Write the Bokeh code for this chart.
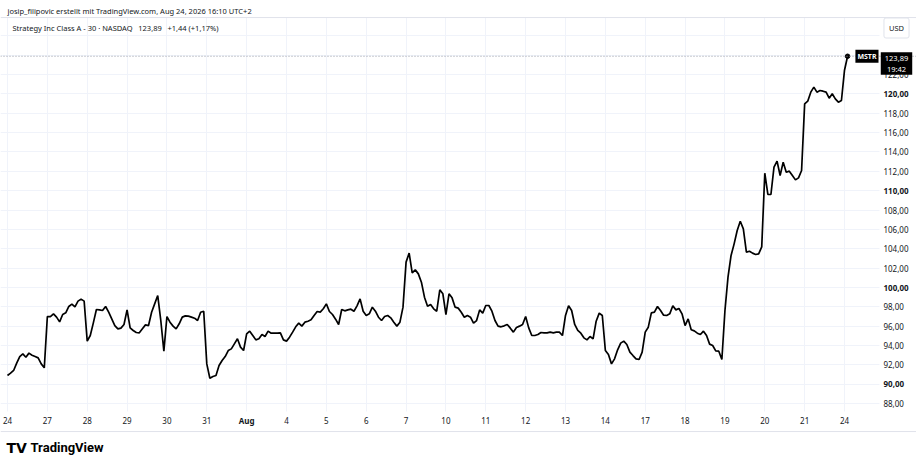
from bokeh.plotting import figure
from bokeh.models import (ColumnDataSource, FixedTicker, Range1d, Span, Label, Grid,
                          LinearAxis, CustomJSTickFormatter)
from bokeh.embed import file_html
from bokeh.resources import INLINE

# MSTR 30-minute closes, one list per session (13 bars in a regular session)
day_labels = ["24", "27", "28", "29", "30", "31", "Aug", "4", "5", "6", "7",
              "10", "11", "12", "13", "14", "17", "18", "19", "20", "21", "24"]

jul24 = [90.91, 91.15, 91.43, 92.18, 92.87, 93.15, 92.80, 93.22, 93.01, 92.87, 92.73, 92.11, 91.70]
jul27 = [97.00, 97.00, 97.28, 96.94, 96.45, 97.21, 97.38, 98.04, 98.28, 98.00, 98.59, 98.80, 98.59]
jul28 = [94.46, 95.04, 96.35, 97.73, 97.69, 97.62, 98.04, 97.45, 96.76, 96.07, 95.73, 95.80, 96.18]
jul29 = [97.69, 95.83, 95.56, 95.35, 95.32, 95.73, 96.14, 96.07, 97.45, 98.31, 99.17, 96.59, 93.42]
jul30 = [97.00, 96.42, 96.01, 95.73, 96.25, 96.94, 97.07, 97.04, 96.94, 96.83, 96.59, 97.45, 97.55]
jul31 = [92.11, 90.63, 90.81, 90.91, 91.94, 92.46, 92.87, 93.49, 93.66, 94.18, 94.70, 93.84, 93.49]
aug03 = [95.21, 95.49, 95.04, 94.59, 94.70, 95.14, 94.94, 95.49, 95.28, 95.28, 95.28, 95.32, 94.59]
aug04 = [94.46, 94.87, 95.39, 95.94, 96.32, 96.01, 96.42, 96.52, 96.66, 97.11, 97.52, 97.45, 97.80]
aug05 = [98.31, 97.52, 97.21, 96.73, 96.18, 97.73, 97.59, 97.69, 97.76, 97.55, 98.11, 98.83, 97.55]
aug06 = [97.11, 97.28, 97.97, 97.55, 96.93, 96.59, 97.00, 97.11, 96.87, 96.42, 96.01, 96.42, 97.97]
aug07 = [102.62, 103.55, 101.51, 101.82, 101.41, 100.55, 99.00, 98.07, 98.24, 97.80, 97.55, 99.76, 99.35]
aug10 = [97.21, 99.35, 98.93, 97.97, 97.87, 97.45, 96.93, 97.11, 96.93, 96.31, 96.59, 97.69, 97.35]
aug11 = [98.14, 98.14, 97.55, 96.59, 96.01, 95.94, 96.04, 96.18, 95.80, 95.39, 95.87, 96.01, 96.18]
aug12 = [97.00, 95.83, 95.04, 95.04, 95.14, 95.35, 95.32, 95.32, 95.39, 95.32, 95.39, 95.39, 95.04]
aug13 = [97.11, 98.11, 97.62, 96.18, 95.56, 95.28, 94.80, 94.59, 94.94, 94.70, 96.52, 97.35, 97.11]
aug14 = [93.49, 93.08, 92.11, 92.63, 93.56, 94.25, 94.46, 94.11, 93.32, 92.97, 92.63, 92.56, 93.32]
aug17 = [95.39, 95.90, 97.38, 97.45, 98.04, 97.62, 97.14, 97.11, 97.28, 98.11, 97.69, 97.83, 97.28]
aug18 = [96.07, 96.76, 95.63, 95.52, 95.28, 95.14, 95.49, 95.04, 94.15, 94.01, 93.46, 93.42, 92.56]
aug19 = [97.60, 101.07, 103.31, 104.51, 105.89, 106.85, 106.06, 103.65, 103.75, 103.55, 103.41, 103.48, 104.20]
aug20 = [111.81, 109.61, 109.61, 112.43, 113.05, 111.57, 112.95, 111.91, 112.02, 111.57, 111.12, 111.33, 112.09]
aug21 = [118.97, 119.25, 120.18, 120.70, 120.18, 120.35, 120.28, 120.18, 119.56, 120.01, 119.49, 119.15, 119.32]
aug24 = [122.45, 123.89]

sessions = [jul24, jul27, jul28, jul29, jul30, jul31, aug03, aug04, aug05, aug06, aug07,
            aug10, aug11, aug12, aug13, aug14, aug17, aug18, aug19, aug20, aug21, aug24]
close = [c for s in sessions for c in s]
bar = list(range(len(close)))
day_start = [i * 13 for i in range(len(sessions))]

price_ticks = list(range(88, 123, 2))
grid_ticks = list(range(88, 128, 2))
bold_prices = [90, 100, 110, 120]

header = "josip_filipovic erstellt mit TradingView.com, Aug 24, 2026 16:10 UTC+2"
legend = "Strategy Inc Class A - 30 \u00b7 NASDAQ\u2002 123,89\u2002 +1,44 (+1,17%)"

TXT = "#131722"
FONT = "Noto Sans"
W, H = 916, 464

# the whole canvas is the frame; the price pane is the part left of PANE_R / between PANE_B and PANE_T
PANE_R = 284.4             # bar index at the price scale edge
PANE_T, PANE_B = 127.89, 87.19
BOTTOM_LINE = 85.12

src = ColumnDataSource(data={"bar": bar, "close": close})

p = figure(width=W, height=H, output_backend="svg", toolbar_location=None,
           x_range=Range1d(-2.283, 296.48), y_range=Range1d(81.715, 129.65),
           x_axis_type=None, y_axis_type=None, min_border=0)
p.outline_line_color = None

p.add_layout(Grid(dimension=0, ticker=FixedTicker(ticks=day_start),
                  cross_bounds=(PANE_B, PANE_T), grid_line_color="#f0f3fa"))
p.add_layout(Grid(dimension=1, ticker=FixedTicker(ticks=grid_ticks),
                  cross_bounds=(-2.283, PANE_R), grid_line_color="#f0f3fa"))

p.add_layout(Span(location=PANE_T, dimension="width", line_color="#e0e3eb", line_width=1))
p.add_layout(Span(location=BOTTOM_LINE, dimension="width", line_color="#e0e3eb", line_width=1))
p.add_layout(Span(location=close[-1], dimension="width", line_color="#9598a1",
                  line_dash="1 2", line_width=1))

p.line("bar", "close", source=src, line_color="black", line_width=1.7)
p.scatter(x=[bar[-1]], y=[close[-1]], size=4.5, color="black")

yax = LinearAxis(fixed_location=PANE_R, ticker=FixedTicker(ticks=price_ticks))
yax.formatter = CustomJSTickFormatter(
    code="return (tick % 10 == 0) ? '' : tick.toFixed(2).replace('.', ',');")
xax = LinearAxis(fixed_location=PANE_B, ticker=FixedTicker(ticks=day_start))
xax.major_label_overrides = {s: ("" if lab == "Aug" else lab) for s, lab in zip(day_start, day_labels)}
for ax, standoff in ((yax, 4), (xax, 5)):
    ax.axis_line_color = None
    ax.major_tick_line_color = None
    ax.minor_tick_line_color = None
    ax.major_tick_out = 0
    ax.major_tick_in = 0
    ax.major_label_standoff = standoff
    ax.major_label_text_font_size = "8px"
    ax.major_label_text_color = TXT
    ax.major_label_text_font = FONT
p.add_layout(yax, "right")
p.add_layout(xax, "below")

for pr in bold_prices:
    p.add_layout(Label(x=883, y=pr, x_units="screen", y_units="data",
                       text=f"{pr:.2f}".replace(".", ","), text_font_size="8px",
                       text_font_style="bold", text_baseline="middle",
                       text_color=TXT, text_font=FONT))

p.add_layout(Label(x=day_start[day_labels.index("Aug")], y=PANE_B, y_offset=-9,
                   text="Aug", text_font_size="8px", text_font_style="bold",
                   text_align="center", text_baseline="middle", text_color=TXT, text_font=FONT))

p.add_layout(Label(x=7, y=H - 10, x_units="screen", y_units="screen", text=header,
                   text_font_size="7.5px", text_baseline="middle", text_color=TXT, text_font=FONT))
p.add_layout(Label(x=12, y=H - 27, x_units="screen", y_units="screen", text=legend,
                   text_font_size="7.5px", text_baseline="middle", text_color=TXT, text_font=FONT))
p.add_layout(Label(x=896, y=H - 27.5, x_units="screen", y_units="screen", text="USD",
                   text_font_size="7.5px", text_align="center", text_baseline="middle",
                   text_color=TXT, text_font=FONT, padding=5,
                   border_line_color="#e0e3eb", border_radius=2))

p.add_layout(Label(x=878, y=close[-1], x_units="screen", y_units="data", text="MSTR",
                   text_font_size="7px", text_font_style="bold", text_align="right",
                   text_baseline="middle", text_color="white", text_font=FONT,
                   background_fill_color="black", padding=2))
p.add_layout(Label(x=896, y=close[-1], x_units="screen", y_units="data", y_offset=4,
                   text=f"{close[-1]:.2f}".replace(".", ",") + "\n19:42",
                   text_font_size="7.5px", text_align="center", text_baseline="top",
                   text_color="white", text_font=FONT, background_fill_color="black",
                   padding=(4, 1), text_line_height=1.05))

p.add_layout(Label(x=6, y=H - 447, x_units="screen", y_units="screen", text="TV",
                   text_font_size="14px", text_font_style="bold", text_baseline="middle",
                   text_color="black", text_font="DejaVu Sans"))
p.add_layout(Label(x=30, y=H - 447, x_units="screen", y_units="screen", text="TradingView",
                   text_font_size="13px", text_font_style="bold", text_baseline="middle",
                   text_color="black", text_font="Roboto"))

open("out.html", "w").write(file_html(p, INLINE))
